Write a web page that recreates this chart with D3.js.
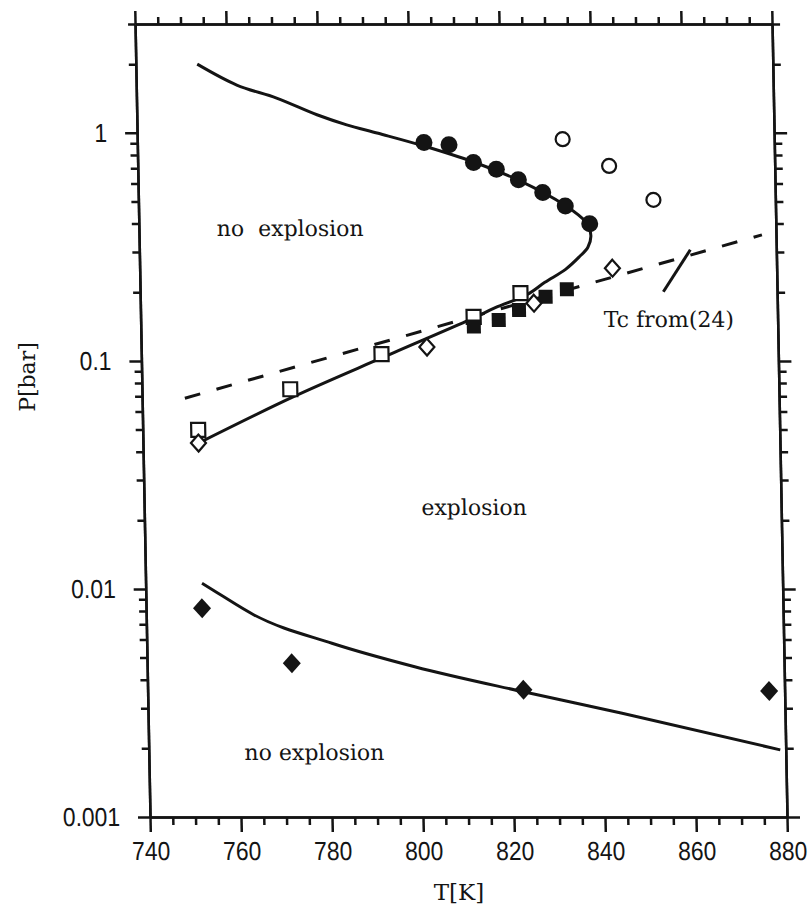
<!DOCTYPE html>
<html>
<head>
<meta charset="utf-8">
<script src="https://cdn.jsdelivr.net/npm/d3@7"></script>
<style>
  html, body { margin: 0; padding: 0; background: #fff; }
  svg { display: block; }
</style>
</head>
<body>
<div id="chart"></div>
<script>
// T[K], P[bar]
var filledCircles = [[803, 0.907], [808.5, 0.886], [813.8, 0.741], [818.8, 0.693],
                     [823.6, 0.622], [828.9, 0.547], [833.8, 0.478], [839.1, 0.399]]
var openCircles   = [[833.5, 0.938], [843.6, 0.716], [853.2, 0.508]]
var openSquares   = [[752.2, 0.0498], [772.6, 0.0751], [792.8, 0.107], [813.2, 0.156], [823.6, 0.198]]
var openDiamonds  = [[752.2, 0.0436], [802.8, 0.115], [826.5, 0.179], [843.9, 0.255]]
var filledSquares = [[813.2, 0.1414], [818.7, 0.151], [823.2, 0.167], [829.1, 0.191], [833.8, 0.206]]
var lowDiamonds   = [[752.3, 0.00823], [771.8, 0.00472], [822.6, 0.00361], [876.6, 0.00357]]

// S-shaped upper limit curve (upper branch, nose, lower branch)
var sCurve = [[753.5, 2.0], [762.1, 1.62], [770.8, 1.42], [779.6, 1.2], [786.1, 1.084],
              [793, 0.995], [803, 0.875], [813.8, 0.745], [823.6, 0.62], [833.8, 0.48],
              [838.3, 0.405], [839.3, 0.355], [838.6, 0.315], [836.6, 0.285], [833.6, 0.252],
              [829, 0.221], [825, 0.195], [818, 0.171], [812.5, 0.152], [793.3, 0.104],
              [773.3, 0.0697], [752.2, 0.0436]]
var lowCurve  = [[752.4, 0.0106], [755.8, 0.0096], [763.7, 0.00769], [780.7, 0.00578],
                 [798.8, 0.00456], [822.6, 0.00354], [844.2, 0.00285], [878.8, 0.00197]]
var tcLine    = [[749.4, 0.0686], [876.9, 0.357]]
var tcPointer = [[855.0, 0.201], [861.1, 0.307]]

var xMajor = [740, 760, 780, 800, 820, 840, 860, 880]
var xMinor = d3.range(740, 881, 5).filter(function(v) { return v % 20 != 0 })
var yMajor = [0.001, 0.01, 0.1, 1]
var yMajorLabels = ["0.001", "0.01", "0.1", "1"]
var yMinor = []
yMajor.forEach(function(d) {
    for (var k = 2; k <= 9; k++) if (d * k <= 3) yMinor.push(d * k)
})

var notes = [
    {text: "no  explosion", T: 757.1, P: 0.353, anchor: "start"},
    {text: "explosion", T: 812.5, P: 0.0211, anchor: "middle"},
    {text: "no explosion", T: 776.4, P: 0.00178, anchor: "middle"},
    {text: "Tc from(24)", T: 856.1, P: 0.141, anchor: "middle"}
]

var W = 812, H = 906
var ink = "#141414"
var serif = "'DejaVu Serif', 'Liberation Serif', serif"
var sans = "'Liberation Sans', Arial, sans-serif"

var x = d3.scaleLinear().domain([740, 880]).range([150, 787])
var y = d3.scaleLog().domain([0.001, 3]).range([817, 24])
var plotLeft = x.range()[0], plotRight = x.range()[1]
var plotTop = y.range()[1], plotBottom = y.range()[0]

var svg = d3.select("#chart").append("svg")
    .attr("width", W)
    .attr("height", H)

svg.append("rect").attr("width", W).attr("height", H).style("fill", "#fff")

// the scan is slightly sheared: lean the whole frame
var plot = svg.append("g")
    .attr("transform", "translate(0," + plotBottom + ") skewX(1.08) translate(0," + (-plotBottom) + ")")

function styleAxis(g) {
    g.select(".domain").style("stroke", ink).style("stroke-width", 2.5)
    g.selectAll(".tick line").style("stroke", ink).style("stroke-width", 2.5)
    g.selectAll(".tick text")
        .style("fill", ink)
        .style("font-family", sans)
        .style("font-size", "26px")
        .each(function() {
            // condensed look of the original tick numerals
            var len = this.getComputedTextLength()
            if (len > 0) d3.select(this).attr("textLength", len * 0.88).attr("lengthAdjust", "spacingAndGlyphs")
        })
}

// bottom
plot.append("g").attr("transform", "translate(0," + plotBottom + ")")
    .call(d3.axisBottom(x).tickValues(xMinor).tickSize(8).tickSizeOuter(0).tickFormat(""))
    .call(styleAxis)
plot.append("g").attr("transform", "translate(0," + plotBottom + ")")
    .call(d3.axisBottom(x).tickValues(xMajor).tickSize(15).tickSizeOuter(0).tickPadding(10)
          .tickFormat(d3.format("d")))
    .call(styleAxis)

// top
plot.append("g").attr("transform", "translate(0," + plotTop + ")")
    .call(d3.axisTop(x).tickValues(xMinor).tickSize(7).tickSizeOuter(0).tickFormat(""))
    .call(styleAxis)
plot.append("g").attr("transform", "translate(0," + plotTop + ")")
    .call(d3.axisTop(x).tickValues(xMajor).tickSize(13).tickSizeOuter(0).tickFormat(""))
    .call(styleAxis)

// left
plot.append("g").attr("transform", "translate(" + plotLeft + ",0)")
    .call(d3.axisLeft(y).tickValues(yMinor).tickSize(7).tickSizeOuter(0).tickFormat(""))
    .call(styleAxis)
plot.append("g").attr("transform", "translate(" + plotLeft + ",0)")
    .call(d3.axisLeft(y).tickValues(yMajor).tickSize(12).tickSizeOuter(0).tickPadding(18)
          .tickFormat(function(d, i) { return yMajorLabels[i] }))
    .call(styleAxis)

// right
plot.append("g").attr("transform", "translate(" + plotRight + ",0)")
    .call(d3.axisRight(y).tickValues(yMinor).tickSize(8).tickSizeOuter(0).tickFormat(""))
    .call(styleAxis)
plot.append("g").attr("transform", "translate(" + plotRight + ",0)")
    .call(d3.axisRight(y).tickValues(yMajor).tickSize(13).tickSizeOuter(0).tickFormat(""))
    .call(styleAxis)

var line = d3.line()
    .x(function(d) { return x(d[0]) })
    .y(function(d) { return y(d[1]) })

plot.append("path").datum(tcLine)
    .attr("d", line)
    .style("fill", "none").style("stroke", ink).style("stroke-width", 3)
    .style("stroke-dasharray", "16,17")

plot.append("path").datum(sCurve)
    .attr("d", line.curve(d3.curveCatmullRom.alpha(0.5)))
    .style("fill", "none").style("stroke", ink).style("stroke-width", 3)

plot.append("path").datum(lowCurve)
    .attr("d", line.curve(d3.curveMonotoneX))
    .style("fill", "none").style("stroke", ink).style("stroke-width", 3)

plot.append("path").datum(tcPointer)
    .attr("d", line.curve(d3.curveLinear))
    .style("fill", "none").style("stroke", ink).style("stroke-width", 3)

function diamond(w, h) {
    return "M0," + (-h) + "L" + w + ",0L0," + h + "L" + (-w) + ",0Z"
}
function place(d) { return "translate(" + x(d[0]) + "," + y(d[1]) + ")" }

plot.selectAll(".fcirc").data(filledCircles).enter().append("circle")
    .attr("class", "fcirc")
    .attr("cx", function(d) { return x(d[0]) })
    .attr("cy", function(d) { return y(d[1]) })
    .attr("r", 8.5)
    .style("fill", ink)

plot.selectAll(".ocirc").data(openCircles).enter().append("circle")
    .attr("class", "ocirc")
    .attr("cx", function(d) { return x(d[0]) })
    .attr("cy", function(d) { return y(d[1]) })
    .attr("r", 7)
    .style("fill", "#fff").style("stroke", ink).style("stroke-width", 2.2)

plot.selectAll(".osq").data(openSquares).enter().append("rect")
    .attr("class", "osq")
    .attr("x", function(d) { return x(d[0]) - 7 })
    .attr("y", function(d) { return y(d[1]) - 7 })
    .attr("width", 14).attr("height", 14)
    .style("fill", "#fff").style("stroke", ink).style("stroke-width", 2.2)

plot.selectAll(".fsq").data(filledSquares).enter().append("rect")
    .attr("class", "fsq")
    .attr("x", function(d) { return x(d[0]) - 7 })
    .attr("y", function(d) { return y(d[1]) - 7 })
    .attr("width", 14).attr("height", 14)
    .style("fill", ink)

plot.selectAll(".odia").data(openDiamonds).enter().append("path")
    .attr("class", "odia")
    .attr("transform", place)
    .attr("d", diamond(7.5, 8.5))
    .style("fill", "#fff").style("stroke", ink).style("stroke-width", 2.2)

plot.selectAll(".ldia").data(lowDiamonds).enter().append("path")
    .attr("class", "ldia")
    .attr("transform", place)
    .attr("d", diamond(9, 10))
    .style("fill", ink)

plot.selectAll(".note").data(notes).enter().append("text")
    .attr("class", "note")
    .attr("x", function(d) { return x(d.T) })
    .attr("y", function(d) { return y(d.P) })
    .attr("text-anchor", function(d) { return d.anchor })
    .style("white-space", "pre")
    .style("font-family", serif)
    .style("font-size", "22px")
    .style("fill", ink)
    .text(function(d) { return d.text })

svg.append("text")
    .attr("x", 459)
    .attr("y", 900)
    .attr("text-anchor", "middle")
    .style("font-family", serif).style("font-size", "23px").style("fill", ink)
    .text("T[K]")

svg.append("text")
    .attr("transform", "translate(35,377) rotate(-90)")
    .attr("text-anchor", "middle")
    .style("font-family", serif).style("font-size", "22px").style("fill", ink)
    .text("P[bar]")
</script>
</body>
</html>
